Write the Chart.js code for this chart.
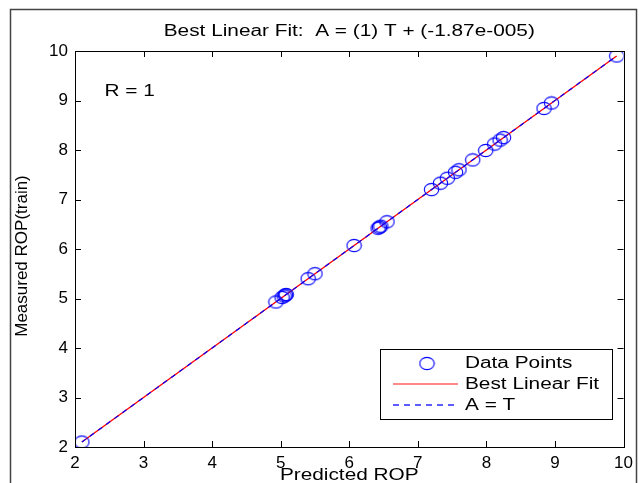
<!DOCTYPE html>
<html lang="en">
<head>
<meta charset="UTF-8">
<title>Best Linear Fit</title>
<script src="https://cdn.jsdelivr.net/npm/chart.js"></script>
<style>
    html, body { margin: 0; padding: 0; background: #fff; }
    #wrap { width: 639px; height: 483px; }
</style>
</head>
<body>
<div id="wrap"><canvas id="fitChart" width="639" height="483"></canvas></div>
<script>
// predicted vs measured ROP (train)
const predicted = [2.1, 4.93, 5.02, 5.05, 5.07, 5.08, 5.4, 5.5, 6.07, 6.42, 6.44, 6.46, 6.55,
                   7.2, 7.33, 7.43, 7.55, 7.6, 7.8, 7.99, 8.12, 8.2, 8.25, 8.84, 8.95, 9.9];
const measured  = [2.1, 4.93, 5.02, 5.05, 5.07, 5.08, 5.4, 5.5, 6.07, 6.42, 6.44, 6.46, 6.55,
                   7.2, 7.33, 7.43, 7.55, 7.6, 7.8, 7.99, 8.12, 8.2, 8.25, 8.84, 8.95, 9.9];
const fitRange = [2.1, 9.9];
const fitSlope = 1, fitOffset = -1.87e-5;
const xTicks = [2, 3, 4, 5, 6, 7, 8, 9, 10];
const yTicks = [2, 3, 4, 5, 6, 7, 8, 9, 10];
const titleText = "Best Linear Fit:  A = (1) T + (-1.87e-005)";
const rText = "R = 1";

const FONT = '"Liberation Sans", Arial, sans-serif';
const BLUE = '#0000ff', RED = '#ff0000';
const STRETCH = 1.3; // the original figure text is wide

const points = predicted.map((p, i) => ({ x: p, y: measured[i] }));
const fitLine = fitRange.map(t => ({ x: t, y: fitSlope * t + fitOffset }));
const identLine = fitRange.map(t => ({ x: t, y: t }));

// slightly flattened circle marker, like the original
function makeMarker() {
    const cv = document.createElement('canvas');
    cv.width = 17; cv.height = 15;
    const g = cv.getContext('2d');
    g.strokeStyle = BLUE;
    g.lineWidth = 1.1;
    g.beginPath();
    g.ellipse(8.5, 7.5, 7.2, 6.1, 0, 0, Math.PI * 2);
    g.stroke();
    return cv;
}
const marker = makeMarker();

function wideText(c, txt, x, y, align) {
    c.save();
    c.translate(x, y);
    c.scale(STRETCH, 1);
    c.textAlign = align;
    c.fillText(txt, 0, 0);
    c.restore();
}

// matlab style: box, inward ticks, texts, legend
const matlabLook = {
    id: 'matlabLook',
    beforeDraw(chart) {
        const c = chart.ctx;
        c.save();
        c.fillStyle = '#fff';
        c.fillRect(0, 0, chart.width, chart.height);
        c.strokeStyle = '#444';
        c.lineWidth = 1.5;
        c.strokeRect(10.5, 9.5, 626, 490);
        c.restore();
    },
    afterDraw(chart) {
        const c = chart.ctx;
        const a = chart.chartArea;
        const xs = chart.scales.x, ys = chart.scales.y;
        c.save();
        c.strokeStyle = '#000';
        c.lineWidth = 1;
        c.strokeRect(Math.round(a.left) + 0.5, Math.round(a.top) + 0.5,
                     Math.round(a.right - a.left), Math.round(a.bottom - a.top));
        c.beginPath();
        xTicks.forEach(v => {
            const px = Math.round(xs.getPixelForValue(v)) + 0.5;
            c.moveTo(px, a.bottom); c.lineTo(px, a.bottom - 6);
            c.moveTo(px, a.top); c.lineTo(px, a.top + 6);
        });
        yTicks.forEach(v => {
            const py = Math.round(ys.getPixelForValue(v)) + 0.5;
            c.moveTo(a.left, py); c.lineTo(a.left + 6, py);
            c.moveTo(a.right, py); c.lineTo(a.right - 6, py);
        });
        c.stroke();

        c.fillStyle = '#000';
        c.font = '16px ' + FONT;
        c.textBaseline = 'middle';
        wideText(c, titleText, (a.left + a.right) / 2, 32, 'center');
        wideText(c, 'Predicted ROP', (a.left + a.right) / 2, 476, 'center');
        wideText(c, rText, xs.getPixelForValue(2.43), ys.getPixelForValue(9.17), 'left');

        c.save();
        c.translate(22, 256);
        c.rotate(-Math.PI / 2);
        c.textAlign = 'center';
        c.font = '17px ' + FONT;
        c.fillText('Measured ROP(train)', 0, 0);
        c.restore();

        // legend box
        const lx = 380.5, ly = 349.5, lw = 232, lh = 70;
        c.fillStyle = '#fff';
        c.fillRect(lx, ly, lw, lh);
        c.strokeStyle = '#000';
        c.strokeRect(lx, ly, lw, lh);
        const ds = chart.data.datasets;
        const rows = [ly + 13, ly + 34, ly + 55];
        c.font = '16px ' + FONT;
        ds.forEach((d, i) => {
            const y = Math.round(rows[i]);
            if (i === 0) {
                c.drawImage(marker, 427 - 8.5, y - 7);
            } else if (i === 1) {
                c.strokeStyle = 'rgba(255, 80, 80, 0.9)';
                c.lineWidth = 1.6;
                c.setLineDash([]);
                c.beginPath();
                c.moveTo(393, y); c.lineTo(458, y);
                c.stroke();
            } else {
                c.strokeStyle = 'rgba(40, 40, 255, 1)';
                c.lineWidth = 1.6;
                c.setLineDash([6, 5]);
                c.beginPath();
                c.moveTo(393, y); c.lineTo(458, y);
                c.stroke();
                c.setLineDash([]);
            }
            c.fillStyle = '#000';
            wideText(c, d.label, 465, y + 1, 'left');
        });
        c.restore();
    }
};

new Chart(document.getElementById('fitChart'), {
    type: 'scatter',
    data: {
        datasets: [
            {
                label: 'Data Points',
                data: points,
                showLine: false,
                pointStyle: marker,
                pointRadius: 7,
                borderColor: BLUE,
                backgroundColor: 'rgba(0,0,0,0)',
                order: 0
            },
            {
                label: 'Best Linear Fit',
                type: 'line',
                data: fitLine,
                borderColor: RED,
                borderWidth: 1.4,
                pointRadius: 0,
                fill: false,
                order: 2
            },
            {
                label: 'A = T',
                type: 'line',
                data: identLine,
                borderColor: BLUE,
                borderWidth: 1.2,
                borderDash: [5, 5],
                pointRadius: 0,
                fill: false,
                order: 1
            }
        ]
    },
    options: {
        responsive: false,
        animation: false,
        layout: { padding: { left: 0, top: 51, right: 14, bottom: 0 } },
        plugins: {
            legend: { display: false },
            title: { display: false },
            tooltip: { enabled: false }
        },
        scales: {
            x: {
                type: 'linear',
                min: 2, max: 10,
                afterFit(s) { s.height = 36; },
                afterBuildTicks(s) { s.ticks = xTicks.map(v => ({ value: v })); },
                grid: { display: true, drawOnChartArea: false, drawTicks: false },
                border: { display: true, color: '#000', width: 1 },
                ticks: { color: '#000', padding: 6, maxRotation: 0, font: { family: FONT, size: 17 } }
            },
            y: {
                type: 'linear',
                min: 2, max: 10,
                afterFit(s) { s.width = 75; },
                afterBuildTicks(s) { s.ticks = yTicks.map(v => ({ value: v })); },
                grid: { display: true, drawOnChartArea: false, drawTicks: false },
                border: { display: true, color: '#000', width: 1 },
                ticks: { color: '#000', padding: 7, font: { family: FONT, size: 17 } }
            }
        }
    },
    plugins: [matlabLook]
});
</script>
</body>
</html>
